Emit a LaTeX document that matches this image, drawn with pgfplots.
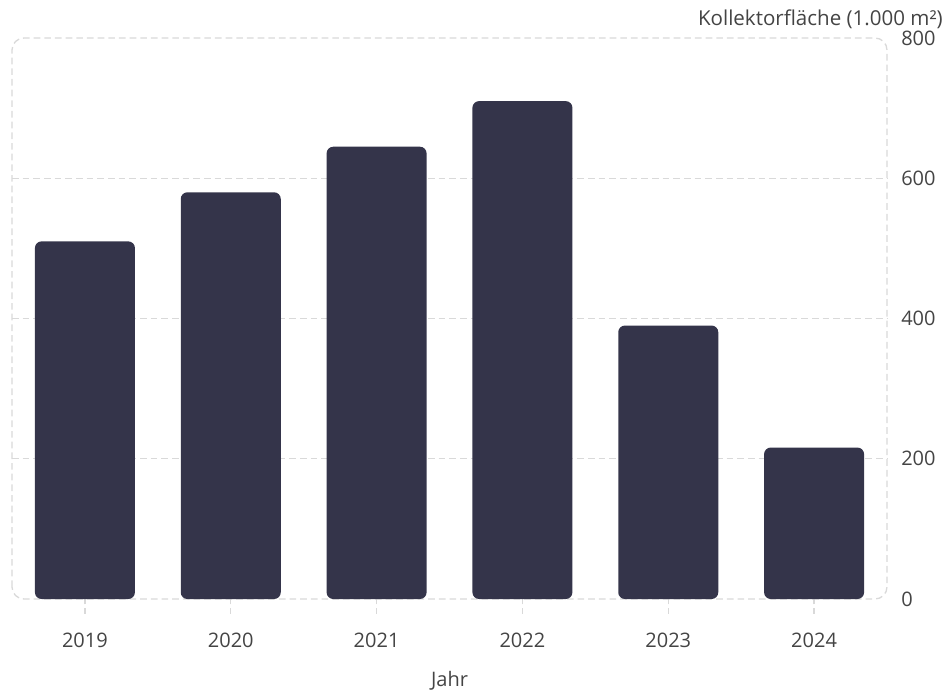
\documentclass[border=0pt]{standalone}
\usepackage{pgfplots}
\pgfplotsset{compat=1.18}
\usepackage{fontspec}
\setmainfont{Open Sans}
\definecolor{barc}{HTML}{34344A}
\definecolor{txt}{HTML}{444444}
\definecolor{gridc}{HTML}{D9D9D9}
\begin{document}
\begin{tikzpicture}
\begin{axis}[
  scale only axis,
  width=656.25pt, height=420.75pt,
  xmin=-0.5, xmax=5.5, ymin=0, ymax=800,
  enlargelimits=false,
  axis line style={draw=none},
  font=\fontsize{15pt}{18pt}\selectfont,
  /pgf/number format/assume math mode=true,
  xtick={0,1,2,3,4,5},
  xticklabels={2019,2020,2021,2022,2023,2024},
  xtick pos=bottom,
  tick align=outside,
  major tick length=11pt,
  xtick style={draw=gridc, line width=1pt, dash pattern=on 4pt off 3pt},
  xticklabel style={text=txt, yshift=-11pt},
  ytick={0,200,400,600,800},
  ytick pos=right,
  yticklabel pos=right,
  ytick style={draw=none},
  yticklabel style={text=txt, anchor=west, inner sep=0pt, xshift=-0.5pt},
  extra y ticks={200,400,600},
  extra y tick labels={},
  extra y tick style={grid=major, major grid style={draw=gridc, line width=1pt, dash pattern=on 5pt off 3pt}},
  xlabel={Jahr},
  xlabel style={at={(axis description cs:0.5,0)}, anchor=north, inner sep=0pt, yshift=-54pt, text=txt},
  clip=false,
]
\draw[gridc, line width=1pt, dash pattern=on 5pt off 3pt, rounded corners=9pt]
  (rel axis cs:0,0) rectangle (rel axis cs:1,1);
\addplot[ybar, bar width=75pt, bar shift=0pt, fill=barc, draw=none, rounded corners=5pt]
  coordinates {(0,510) (1,580) (2,645) (3,710) (4,390) (5,216)};
\node[anchor=base east, inner sep=0pt, text=txt, font=\fontsize{15.4pt}{18pt}\selectfont]
  at ([xshift=42pt, yshift=9.75pt]rel axis cs:1,1) {Kollektorfläche (1.000 m²)};
\coordinate (bl) at (rel axis cs:0,0);
\end{axis}
\pgfresetboundingbox
\path[use as bounding box] (bl) ++(-9pt,-68.25pt) rectangle ++(709.5pt,517.5pt);
\end{tikzpicture}
\end{document}
